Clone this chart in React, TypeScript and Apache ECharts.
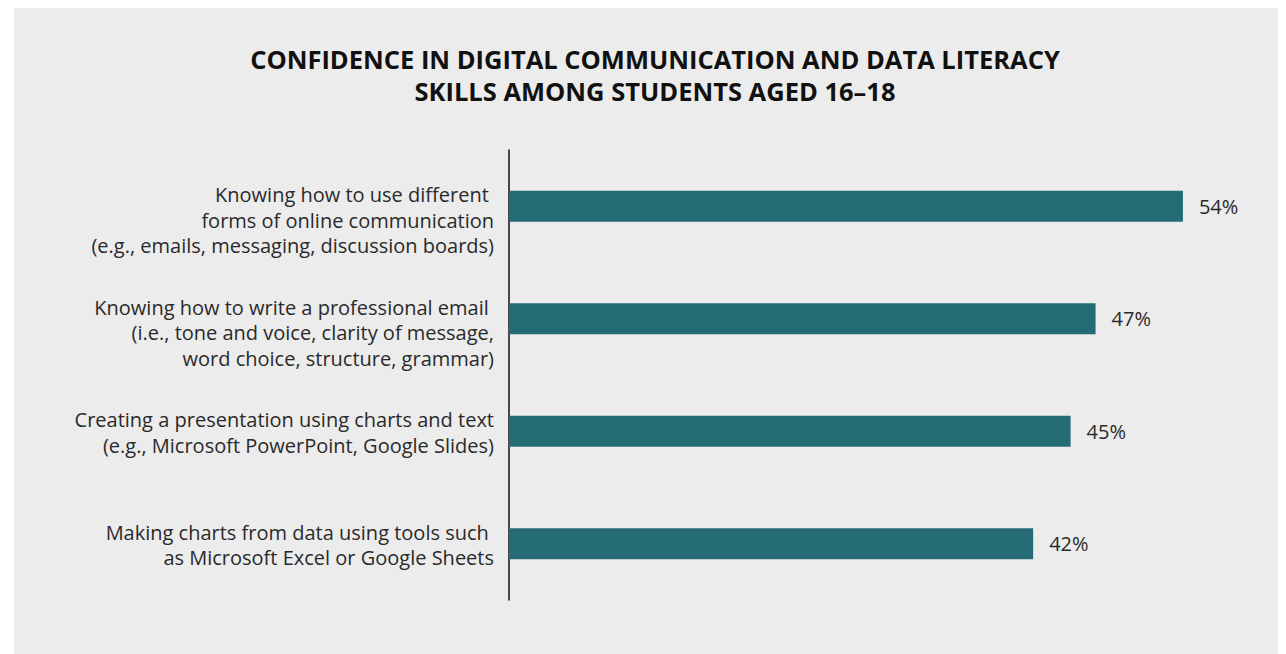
import React, { useEffect, useRef } from "react";
import * as echarts from "echarts";

const titleLines = [
  "CONFIDENCE IN DIGITAL COMMUNICATION AND DATA LITERACY",
  "SKILLS AMONG STUDENTS AGED 16–18",
];

const categories = [
  "Knowing how to use different \nforms of online communication\n(e.g., emails, messaging, discussion boards)",
  "Knowing how to write a professional email \n(i.e., tone and voice, clarity of message,\nword choice, structure, grammar)",
  "Creating a presentation using charts and text\n(e.g., Microsoft PowerPoint, Google Slides)",
  "Making charts from data using tools such \nas Microsoft Excel or Google Sheets",
];

const values = [54, 47, 45, 42];

const FONT = "'Open Sans', 'Noto Sans', sans-serif";

export default function App() {
  const ref = useRef<HTMLDivElement>(null);

  useEffect(() => {
    if (!ref.current) return;
    const chart = echarts.init(ref.current, undefined, { renderer: "svg" });
    const gridLeft = 509;
    const gridTop = 150;
    const gridHeight = 450;
    const gridWidth = 748.8;
    chart.setOption({
      animation: false,
      backgroundColor: "transparent",
      title: {
        text: titleLines.join("\n"),
        left: 650,
        textAlign: "center",
        top: 38,
        textStyle: {
          fontFamily: FONT,
          fontSize: 25.5,
          fontWeight: "bold",
          color: "#111111",
          lineHeight: 32,
        },
      },
      grid: [
        { left: gridLeft, top: gridTop, width: gridWidth, height: gridHeight, containLabel: false },
        { left: gridLeft, top: gridTop - 24.5, width: gridWidth, height: gridHeight, containLabel: false },
      ],
      xAxis: [
        { type: "value", gridIndex: 0, min: 0, max: 60, show: false },
        { type: "value", gridIndex: 1, min: 0, max: 60, show: false },
      ],
      yAxis: [
        {
          type: "category",
          gridIndex: 0,
          data: categories,
          inverse: true,
          axisLine: { show: true, lineStyle: { color: "#111111", width: 1.5 } },
          axisTick: { show: false },
          axisLabel: { show: false },
          splitLine: { show: false },
        },
        {
          type: "category",
          gridIndex: 1,
          data: categories,
          inverse: true,
          axisLine: { show: false },
          axisTick: { show: false },
          splitLine: { show: false },
          axisLabel: {
            show: true,
            interval: 0,
            margin: 15,
            align: "right",
            verticalAlign: "top",
            fontFamily: FONT,
            fontSize: 20,
            lineHeight: 25.5,
            color: "#2a2a2a",
          },
        },
      ],
      series: [
        {
          type: "bar",
          xAxisIndex: 0,
          yAxisIndex: 0,
          data: values,
          barWidth: 31,
          itemStyle: { color: "#256b76" },
          label: {
            show: true,
            position: "right",
            distance: 16,
            formatter: "{c}%",
            fontFamily: FONT,
            fontSize: 20,
            color: "#2a2a2a",
          },
        },
      ],
    });
    return () => chart.dispose();
  }, []);

  return (
    <div
      style={{
        position: "fixed",
        left: 0,
        top: 0,
        width: 1286,
        height: 654,
        background: "#ffffff",
      }}
    >
      <div
        style={{
          position: "absolute",
          left: 14,
          top: 8,
          width: 1264,
          height: 646,
          background: "#ececec",
        }}
      />
      <div
        ref={ref}
        style={{ position: "absolute", left: 0, top: 0, width: 1286, height: 654 }}
      />
    </div>
  );
}
